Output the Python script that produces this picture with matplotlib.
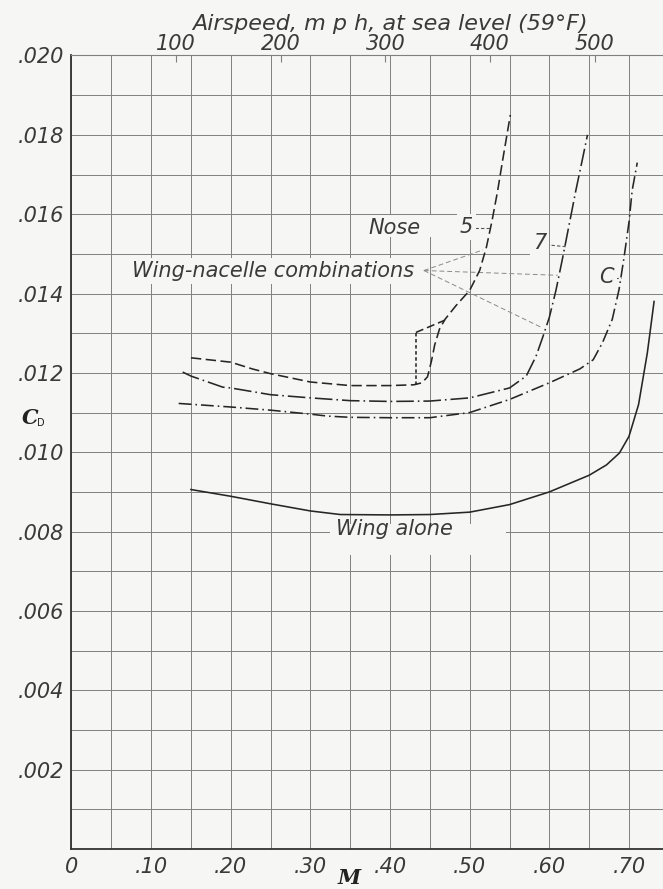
import matplotlib
matplotlib.use("Agg")
import matplotlib.pyplot as plt
import matplotlib.transforms as mtransforms
from matplotlib.ticker import FixedLocator, MultipleLocator
from matplotlib.patches import Rectangle

# ---------------- data ----------------
mach_ticks = [0.0, 0.10, 0.20, 0.30, 0.40, 0.50, 0.60, 0.70]
mach_tick_labels = ["0", ".10", ".20", ".30", ".40", ".50", ".60", ".70"]
cd_ticks = [0.002, 0.004, 0.006, 0.008, 0.010, 0.012, 0.014, 0.016, 0.018, 0.020]
cd_tick_labels = [".002", ".004", ".006", ".008", ".010", ".012", ".014", ".016", ".018", ".020"]
mph_ticks = [100, 200, 300, 400, 500]
mph_tick_labels = ["100", "200", "300", "400", "500"]
speed_of_sound_mph = 761.2

# Nose 5 (dashed)
nose5_M = [0.15, 0.20, 0.227, 0.25, 0.30, 0.35, 0.40, 0.43, 0.44, 0.447, 0.452, 0.456,
           0.462, 0.469, 0.483, 0.50, 0.5125, 0.521, 0.528, 0.535, 0.5417, 0.551]
nose5_CD = [0.01238, 0.01227, 0.0121, 0.01198, 0.01177, 0.01168, 0.01168, 0.0117, 0.01175,
            0.0119, 0.0123, 0.0127, 0.0131, 0.01335, 0.0137, 0.01408, 0.01458, 0.01517,
            0.01583, 0.01658, 0.0174, 0.0185]
# Nose 5 alternative jump branch
nose5_jump_M = [0.4325, 0.4325]
nose5_jump_CD = [0.0117, 0.01302]
nose5_top_M = [0.4325, 0.469]
nose5_top_CD = [0.01302, 0.01333]

# Nose 7 (long dash-dot)
nose7_M = [0.1396, 0.15, 0.19, 0.20, 0.25, 0.30, 0.35, 0.40, 0.45, 0.50, 0.55, 0.571,
           0.5833, 0.5917, 0.60, 0.6083, 0.6167, 0.625, 0.6333, 0.6417, 0.6479]
nose7_CD = [0.01202, 0.01192, 0.01164, 0.01162, 0.01145, 0.01137, 0.0113, 0.01128, 0.01129,
            0.01137, 0.01162, 0.01192, 0.01242, 0.0129, 0.0134, 0.01408, 0.0149, 0.01575,
            0.0166, 0.0174, 0.0180]

# Nose C (dash-dot)
noseC_M = [0.1346, 0.20, 0.25, 0.30, 0.322, 0.35, 0.40, 0.45, 0.50, 0.55, 0.60, 0.6383,
           0.655, 0.6667, 0.679, 0.6875, 0.6937, 0.70, 0.704, 0.7104]
noseC_CD = [0.01123, 0.01114, 0.01106, 0.01096, 0.01091, 0.01088, 0.01087, 0.01087, 0.0110,
            0.01133, 0.01175, 0.0121, 0.01233, 0.01276, 0.01335, 0.0141, 0.0149, 0.0158,
            0.0166, 0.0173]

# Wing alone (solid)
wing_M = [0.15, 0.20, 0.25, 0.30, 0.3375, 0.40, 0.45, 0.50, 0.55, 0.60, 0.65, 0.6717,
          0.688, 0.70, 0.712, 0.723, 0.7315]
wing_CD = [0.00906, 0.00889, 0.0087, 0.00852, 0.00843, 0.00842, 0.00843, 0.00849, 0.00868,
           0.009, 0.00942, 0.00968, 0.00998, 0.0104, 0.0112, 0.0125, 0.0138]

# leader lines for "Wing-nacelle combinations"
leader_origin = (0.4425, 0.01458)
leader_ends_M = [0.5167, 0.6104, 0.5917]
leader_ends_CD = [0.0151, 0.01446, 0.01313]

# ---------------- style ----------------
bg = "#f6f6f4"
ink = "#262626"
grid_c = "#808080"
font = dict(family="DejaVu Sans", style="italic", color="#3a3a3a")
fs = 15

fig = plt.figure(figsize=(6.63, 8.89), dpi=100, facecolor=bg)
ax = fig.add_axes([0.1078, 0.045, 0.8922, 0.8926])
ax.set_facecolor(bg)
ax.set_xlim(0, 0.7427)
ax.set_ylim(0, 0.020)

ax.xaxis.set_major_locator(FixedLocator(mach_ticks))
ax.xaxis.set_minor_locator(MultipleLocator(0.05))
ax.yaxis.set_major_locator(FixedLocator(cd_ticks))
ax.yaxis.set_minor_locator(MultipleLocator(0.001))
ax.set_xticklabels(mach_tick_labels, fontdict=dict(fontsize=fs, **font))
ax.set_yticklabels(cd_tick_labels, fontdict=dict(fontsize=fs, **font))
ax.tick_params(which="both", length=0)
ax.tick_params(axis="x", pad=6)
ax.tick_params(axis="y", pad=5)
ax.set_axisbelow(True)
ax.grid(which="both", color=grid_c, lw=0.7)

for s in ["left", "bottom"]:
    ax.spines[s].set_color("#333333")
    ax.spines[s].set_linewidth(1.3)
ax.spines["top"].set_color(grid_c)
ax.spines["top"].set_linewidth(0.8)
ax.spines["right"].set_visible(False)

# secondary airspeed axis
sec = ax.secondary_xaxis("top", functions=(lambda m: m * speed_of_sound_mph,
                                           lambda v: v / speed_of_sound_mph))
sec.set_xticks(mph_ticks)
sec.set_xticklabels(mph_tick_labels, fontdict=dict(fontsize=fs, **font))
sec.tick_params(direction="in", length=5, width=0.8, color=grid_c, pad=1)
sec.spines["top"].set_visible(False)

trans_top = mtransforms.blended_transform_factory(ax.transData, fig.transFigure)
fig.text(0.40, 0.973, "Airspeed, m p h, at sea level (59°F)", transform=trans_top,
         ha="center", va="center", fontsize=16, **font)

# white label boxes (gridlines interrupted)
for (x0, y0, w, h) in [(0.325, 0.0074, 0.22, 0.0008), (0.37, 0.01542, 0.14, 0.00056)]:
    ax.add_patch(Rectangle((x0, y0), w, h, facecolor=bg, edgecolor="none", zorder=1.5))

lw = 1.15
ax.plot(nose5_M, nose5_CD, color=ink, lw=lw, ls=(0, (6.5, 2.8)), zorder=3)
ax.plot(nose5_jump_M, nose5_jump_CD, color=ink, lw=lw, ls=(0, (2.2, 1.6)), zorder=3)
ax.plot(nose5_top_M, nose5_top_CD, color=ink, lw=lw, ls=(0, (5, 2.5)), zorder=3)
ax.plot(nose7_M, nose7_CD, color=ink, lw=lw, ls=(0, (11, 2.5, 1, 2.5)), zorder=3)
ax.plot(noseC_M, noseC_CD, color=ink, lw=lw, ls=(0, (8, 2.5, 1, 2.5)), zorder=3)
ax.plot(wing_M, wing_CD, color=ink, lw=lw, zorder=3)

# leaders
for xe, ye in zip(leader_ends_M, leader_ends_CD):
    ax.plot([leader_origin[0], xe], [leader_origin[1], ye], color="#8a8a8a", lw=0.7,
            ls=(0, (5, 3)), zorder=2.5)

box = dict(boxstyle="square,pad=0.15", facecolor=bg, edgecolor="none")
ax.text(0.430, 0.01456, "Wing-nacelle combinations", ha="right", va="center",
        fontsize=fs, bbox=box, zorder=4, **font)
ax.text(0.405, 0.01566, "Nose", ha="center", va="center", fontsize=fs, zorder=4, **font)
ax.text(0.4958, 0.01567, "5", ha="center", va="center", fontsize=fs, bbox=box, zorder=4, **font)
ax.text(0.5875, 0.01527, "7", ha="center", va="center", fontsize=fs, bbox=box, zorder=4, **font)
ax.text(0.6717, 0.01442, "C", ha="center", va="center", fontsize=fs, bbox=box, zorder=4, **font)
ax.plot([0.5063, 0.5258], [0.01565, 0.01565], color="#555555", lw=0.8, ls=(0, (3, 2)), zorder=3)
ax.plot([0.5958, 0.6205], [0.01523, 0.01518], color="#555555", lw=0.8, ls=(0, (3, 2)), zorder=3)
ax.plot([0.6821, 0.6905], [0.01438, 0.01438], color="#555555", lw=0.8, ls=(0, (3, 2)), zorder=3)
ax.text(0.405, 0.00806, "Wing alone", ha="center", va="center", fontsize=fs, zorder=4, **font)

# axis labels
fig.text(0.045, 0.5295, "C", fontsize=15, family="DejaVu Serif", style="italic",
         weight="bold", color="#222222", ha="center", va="center")
fig.text(0.062, 0.5245, "D", fontsize=7, family="DejaVu Sans", color="#222222",
         ha="center", va="center")
fig.text(0.527, 0.0125, "M", fontsize=15, family="DejaVu Serif", style="italic",
         weight="bold", color="#222222", ha="center", va="center")

fig.savefig("out.png", dpi=100, facecolor=bg)
